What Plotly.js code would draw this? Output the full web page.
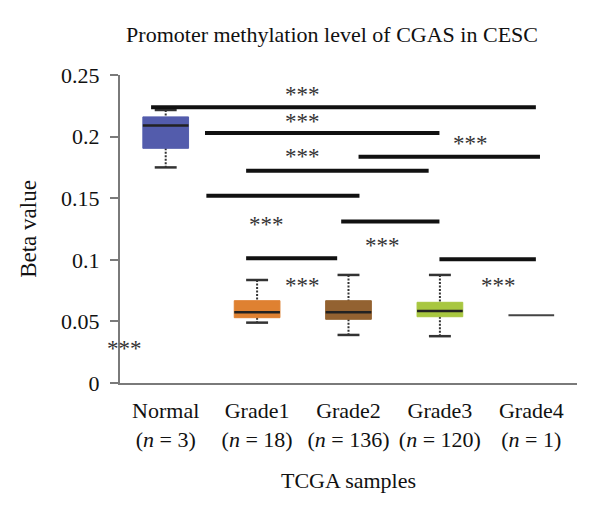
<!DOCTYPE html>
<html>
<head>
<meta charset="utf-8">
<script src="https://cdn.plot.ly/plotly-3.0.1.min.js"></script>
<style>html,body{margin:0;padding:0;background:#fff;}#chart{width:600px;height:522px;}</style>
</head>
<body>
<div id="chart"></div>
<script>
// ---- data ----
const categories = ["Normal", "Grade1", "Grade2", "Grade3", "Grade4"];
const sampleCounts = [3, 18, 136, 120, 1];
const lowerWhisker = [0.175, 0.049, 0.039, 0.038, 0.055];
const q1Values     = [0.1905, 0.053, 0.0517, 0.0538, 0.055];
const medianValues = [0.209, 0.0574, 0.0574, 0.0584, 0.055];
const q3Values     = [0.216, 0.0668, 0.0668, 0.0655, 0.055];
const upperWhisker = [0.2216, 0.0836, 0.0877, 0.0877, 0.055];
const boxColors = ["#4a54a8", "#de7b27", "#8e5a26", "#a4c536", "#444444"];

// significance bars: [start category position, end category position, beta level]
const sigBarStart = [-0.16, 0.43, 2.11, 0.88, 0.445, 1.92, 0.88, 2.995];
const sigBarEnd   = [4.05, 2.995, 4.095, 2.877, 2.12, 2.995, 1.876, 4.05];
const sigBarLevel = [0.2238, 0.2029, 0.1837, 0.1723, 0.152, 0.131, 0.1012, 0.1004];

// significance labels
const starX = [1.5, 1.5, 1.5, 3.34, 1.10, 2.37, 1.5, 3.64, -0.45];
const starY = [0.2364, 0.2149, 0.1865, 0.1972, 0.1309, 0.1139, 0.0814, 0.0814, 0.0308];
const starText = ["***", "***", "***", "***", "***", "***", "***", "***", "***"];

const tickText = categories.map((c, i) => c + "<br>(<i>n</i> = " + sampleCounts[i] + ")");

// ---- traces ----
const traces = [];
const boxHalf = 0.25, capHalf = 0.12;
categories.forEach((c, i) => {
  if (q1Values[i] === q3Values[i] && lowerWhisker[i] === upperWhisker[i]) {
    traces.push({x: [i - boxHalf, i + boxHalf], y: [medianValues[i], medianValues[i]], mode: "lines",
      line: {color: boxColors[i], width: 2}, hoverinfo: "skip", showlegend: false});
    return;
  }
  traces.push({x: [i, i, null, i, i], y: [upperWhisker[i], q3Values[i], null, q1Values[i], lowerWhisker[i]],
    mode: "lines", line: {color: "#333", width: 2, dash: "2px,1.5px"}, hoverinfo: "skip", showlegend: false});
  traces.push({x: [i - capHalf, i + capHalf, null, i - capHalf, i + capHalf],
    y: [upperWhisker[i], upperWhisker[i], null, lowerWhisker[i], lowerWhisker[i]],
    mode: "lines", line: {color: "#333", width: 2.5}, hoverinfo: "skip", showlegend: false});
  traces.push({x: [i - boxHalf, i + boxHalf, i + boxHalf, i - boxHalf, i - boxHalf],
    y: [q1Values[i], q1Values[i], q3Values[i], q3Values[i], q1Values[i]],
    mode: "lines", fill: "toself", fillcolor: boxColors[i], line: {color: boxColors[i], width: 1},
    opacity: 0.95, hoverinfo: "skip", showlegend: false});
  traces.push({x: [i - boxHalf, i + boxHalf], y: [medianValues[i], medianValues[i]], mode: "lines",
    line: {color: "#222", width: 2.5}, hoverinfo: "skip", showlegend: false});
});

const barX = [], barY = [];
sigBarStart.forEach((s, k) => { barX.push(s, sigBarEnd[k], null); barY.push(sigBarLevel[k], sigBarLevel[k], null); });
traces.push({x: barX, y: barY, mode: "lines", line: {color: "#111", width: 4}, hoverinfo: "skip", showlegend: false});

const fam = "Liberation Serif, Times New Roman, serif";

const starAnnotations = starX.map((x, k) => ({
  x: x, y: starY[k], xref: "x", yref: "y", text: starText[k], showarrow: false,
  xanchor: "center", yanchor: "middle", yshift: -3,
  font: {family: fam, size: 23, color: "#333"}
}));

const layout = {
  width: 600, height: 522,
  margin: {l: 120, r: 23, t: 75, b: 139},
  paper_bgcolor: "#fff", plot_bgcolor: "#fff",
  font: {family: fam, color: "#111"},
  title: {text: "Promoter methylation level of CGAS in CESC", font: {family: fam, size: 22, color: "#111"},
    xref: "paper", x: 0.464, xanchor: "center", yref: "container", y: 0.935, yanchor: "middle"},
  xaxis: {range: [-0.5, 4.5], tickvals: [0, 1, 2, 3, 4], ticktext: tickText, ticks: "", tickangle: 0,
    showgrid: false, zeroline: false, showline: true, linecolor: "#7a7a7a", linewidth: 2,
    ticklabelstandoff: 7,
    tickfont: {family: fam, size: 22, color: "#111"},
    title: {text: "TCGA samples", font: {family: fam, size: 22, color: "#111"}, standoff: 22}},
  yaxis: {range: [0, 0.25], tickvals: [0, 0.05, 0.1, 0.15, 0.2, 0.25], ticktext: ["0", "0.05", "0.1", "0.15", "0.2", "0.25"],
    ticks: "outside", ticklen: 8, tickwidth: 2, tickcolor: "#7a7a7a",
    ticklabelstandoff: 6,
    showgrid: false, zeroline: false, showline: true, linecolor: "#7a7a7a", linewidth: 2,
    tickfont: {family: fam, size: 22, color: "#111"},
    title: {text: "Beta value", font: {family: fam, size: 23, color: "#111"}, standoff: 18}},
  annotations: starAnnotations
};

Plotly.newPlot("chart", traces, layout, {displayModeBar: false, staticPlot: true});
</script>
</body>
</html>
